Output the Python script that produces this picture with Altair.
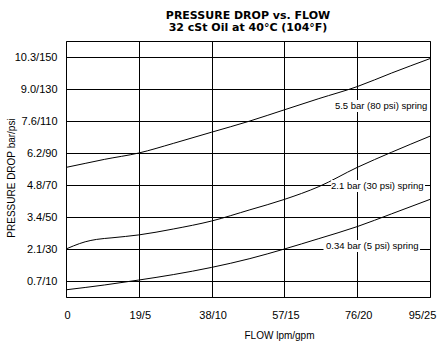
import altair as alt
import pandas as pd

# ---- data ----
flow_5p5 = [0, 5, 10, 19, 28, 38, 48, 57, 66, 76, 85, 95]
psi_5p5 = [81, 83.5, 86, 90, 96, 103, 110, 117, 124, 131.5, 140, 149]

flow_2p1 = [0, 2, 5, 8, 12, 19, 28, 38, 48, 57, 66, 76, 85, 95]
psi_2p1 = [30, 32, 34.5, 36, 37, 38.8, 42.5, 47.5, 54.5, 61, 69, 81, 90.5, 100.5]

flow_0p34 = [0, 10, 19, 28, 38, 48, 57, 66, 76, 85, 95]
psi_0p34 = [4.5, 7.5, 10.6, 14, 18.5, 24, 30, 36.5, 44, 52, 61]

x_ticks = [0, 19, 38, 57, 76, 95]
x_tick_labels = ["0", "19/5", "38/10", "57/15", "76/20", "95/25"]
y_ticks = [10, 30, 50, 70, 90, 110, 130, 150]
y_tick_labels = ["0.7/10", "2.1/30", "3.4/50", "4.8/70", "6.2/90", "7.6/110", "9.0/130", "10.3/150"]

spring_labels = ["5.5 bar (80 psi) spring", "2.1 bar (30 psi) spring", "0.34 bar (5 psi) spring"]
label_x = [94.3, 93.3, 92.0]
label_box_x0 = [69.0, 69.2, 67.2]
label_box_x1 = [94.7, 93.7, 92.4]
label_y = [119.4, 69.4, 31.9]

title_lines = ["PRESSURE DROP vs. FLOW", "32 cSt Oil at 40°C (104°F)"]

# ---- tables ----
rows = []
for name, fx, py in [("5.5", flow_5p5, psi_5p5), ("2.1", flow_2p1, psi_2p1), ("0.34", flow_0p34, psi_0p34)]:
    for i, (a, b) in enumerate(zip(fx, py)):
        rows.append({"spring": name, "flow": a, "psi": b, "order": i})
curves = pd.DataFrame(rows)

ann = pd.DataFrame({
    "label": spring_labels,
    "x": label_x,
    "x0": label_box_x0,
    "x1": label_box_x1,
    "y": label_y,
})
ann["y0"] = ann["y"] - 3.75
ann["y1"] = ann["y"] + 3.75


def label_expr(values, labels):
    expr = "''"
    for v, l in reversed(list(zip(values, labels))):
        expr = f"datum.value == {v} ? '{l}' : ({expr})"
    return expr


FONT = "Liberation Sans"

x_scale = alt.Scale(domain=[0, 95], nice=False, zero=False)
y_scale = alt.Scale(domain=[0, 160], nice=False, zero=False)

x_axis = alt.Axis(
    values=x_ticks,
    labelExpr=label_expr(x_ticks, x_tick_labels),
    grid=True, gridColor="black", gridWidth=1, gridOpacity=1,
    ticks=False, tickSize=0, domain=False,
    labelFont=FONT, labelFontSize=11, labelColor="black",
    labelPadding=12, labelBaseline="top", labelFlush=False, labelOverlap=False,
    labelOffset={"condition": {"test": "datum.value == 95", "value": -8}, "value": 1},
    title="FLOW lpm/gpm", titleFont=FONT, titleFontSize=10, titleFontWeight="normal",
    titleColor="black", titleX=213, titleY=38.5, titleBaseline="middle", titleAlign="center",
)
y_axis = alt.Axis(
    values=y_ticks,
    labelExpr=label_expr(y_ticks, y_tick_labels),
    grid=True, gridColor="black", gridWidth=1, gridOpacity=1,
    ticks=False, tickSize=0, domain=False,
    labelFont=FONT, labelFontSize=11, labelColor="black",
    labelPadding=9, labelBaseline="middle", labelFlush=False, labelOverlap=False,
    labelBound=False,
    title="PRESSURE DROP bar/psi", titleFont=FONT, titleFontSize=10, titleFontWeight="normal",
    titleColor="black", titleX=-55, titleY=136.5, titleBaseline="middle", titleAlign="center",
    titleAngle=270,
)

lines = alt.Chart(curves).mark_line(color="black", strokeWidth=1, interpolate="monotone").encode(
    x=alt.X("flow:Q", scale=x_scale, axis=x_axis),
    y=alt.Y("psi:Q", scale=y_scale, axis=y_axis),
    detail="spring:N",
    order="order:Q",
)

boxes = alt.Chart(ann).mark_rect(color="white").encode(
    x=alt.X("x0:Q", scale=x_scale, axis=x_axis),
    x2="x1:Q",
    y=alt.Y("y0:Q", scale=y_scale, axis=y_axis),
    y2="y1:Q",
)

texts = alt.Chart(ann).mark_text(
    align="right", baseline="middle", font=FONT, fontSize=9.5, color="black"
).encode(
    x=alt.X("x:Q", scale=x_scale, axis=x_axis),
    y=alt.Y("y:Q", scale=y_scale, axis=y_axis),
    text="label:N",
)

chart = alt.layer(lines, boxes, texts).properties(
    width=364,
    height=256,
    background="white",
    title=alt.TitleParams(
        text=title_lines, font="DejaVu Sans", fontSize=11, fontWeight="bold", color="black",
        anchor="middle", baseline="top", offset=0, dy=-8, lineHeight=12,
    ),
    autosize=alt.AutoSizeParams(type="none"),
    padding={"left": 66, "top": 41, "right": 14, "bottom": 47},
).configure_view(stroke="black", strokeWidth=1).configure_axis(labelOverlap=False)

chart.save("out.html", embed_options={"renderer": "svg", "actions": False})
